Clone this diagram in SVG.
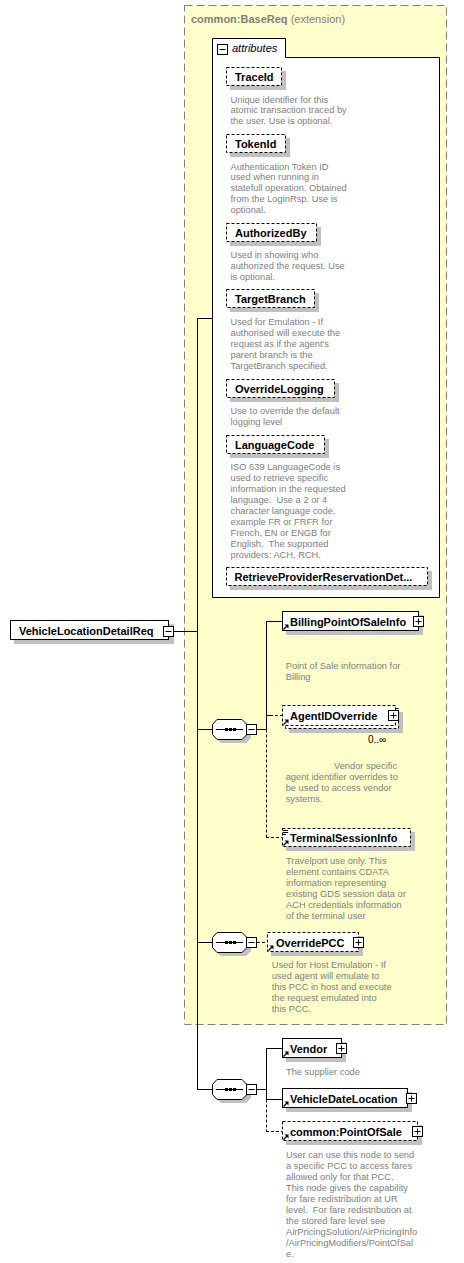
<svg xmlns="http://www.w3.org/2000/svg" xmlns:xlink="http://www.w3.org/1999/xlink" width="464" height="1263" viewBox="0 0 464 1263" xml:space="preserve">
<style>
text{white-space:pre}
.nm{font-family:"Liberation Sans",Arial,sans-serif;font-size:11px;font-weight:bold;fill:#000}
.ds{font-family:"Liberation Sans",Arial,sans-serif;font-size:9.3px;fill:#808080}
.box{fill:#fff;stroke:#000;stroke-width:1}
.dbox{fill:#fff;stroke:#000;stroke-width:1;stroke-dasharray:3,2}
.sh{fill:#c0c0c0}
.ln{stroke:#000;stroke-width:1;fill:none}
.dl{stroke:#000;stroke-width:1;fill:none;stroke-dasharray:3,2}
</style>
<defs>
<g id="plus"><rect x="0.5" y="0.5" width="10" height="10" fill="#fff" stroke="#000"/><path d="M2.5,5.5H8.5M5.5,2.5V8.5" stroke="#000"/></g>
<g id="minus"><rect x="0.5" y="0.5" width="10" height="10" fill="#fff" stroke="#000"/><path d="M2.5,5.5H8.5" stroke="#000"/></g>
<g id="ref"><path d="M0.5,-0.5L4,-4" stroke="#000" stroke-width="1.3"/><polygon points="1.5,-5.5 5.5,-5.5 5.5,-1.5" fill="#000"/></g>
<g id="seq">
<polygon points="9,4 34,4 39,9 39,19 34,24 9,24 4,19 4,9" class="sh"/>
<polygon points="5,0.5 30,0.5 35,5.5 35,15.5 30,20.5 5,20.5 0.5,15.5 0.5,5.5" fill="#fff" stroke="#000"/>
<path d="M4,10.5H31" stroke="#000"/>
<rect x="13" y="9" width="3" height="3" fill="#000"/><rect x="17" y="9" width="3" height="3" fill="#000"/><rect x="21" y="9" width="3" height="3" fill="#000"/>
</g>
</defs>

<g id="baseReq">
<rect x="184.5" y="5.5" width="262" height="1019" fill="#ffffcc" stroke="#808080" stroke-width="1" stroke-dasharray="8,4"/>
<text x="191" y="23" style="font-family:'Liberation Sans',Arial,sans-serif;font-size:11px;fill:#808080"><tspan font-weight="bold">common:BaseReq</tspan> (extension)</text>
</g>

<g id="attributes">
<path d="M212.5,597.5V38.5H285.5V57.5H439.5V597.5Z" fill="#fff" stroke="#000"/>
<use xlink:href="#minus" x="217" y="44"/>
<text x="232" y="52" style="font-family:'Liberation Sans',Arial,sans-serif;font-size:11px;font-style:italic">attributes</text>
</g>

<g id="attr-TraceId">
<rect x="230" y="71" width="56" height="19" class="sh"/>
<rect x="226.5" y="67.5" width="55" height="18" class="dbox"/>
<text x="235" y="80.5" class="nm">TraceId</text>
<text class="ds"><tspan x="230.5" y="102.5">Unique identifier for this</tspan><tspan x="230.5" y="113.3">atomic transaction traced by</tspan><tspan x="230.5" y="124">the user. Use is optional.</tspan></text>
</g>

<g id="attr-TokenId">
<rect x="230" y="138" width="60" height="19" class="sh"/>
<rect x="226.5" y="134.5" width="59" height="18" class="dbox"/>
<text x="235" y="147.5" class="nm">TokenId</text>
<text class="ds"><tspan x="230.5" y="169.5">Authentication Token ID</tspan><tspan x="230.5" y="180.4">used when running in</tspan><tspan x="230.5" y="191.3">statefull operation. Obtained</tspan><tspan x="230.5" y="202.2">from the LoginRsp. Use is</tspan><tspan x="230.5" y="213.1">optional.</tspan></text>
</g>

<g id="attr-AuthorizedBy">
<rect x="230" y="227" width="91" height="19" class="sh"/>
<rect x="226.5" y="223.5" width="90" height="18" class="dbox"/>
<text x="235" y="236.5" class="nm">AuthorizedBy</text>
<text class="ds"><tspan x="230.5" y="257.8">Used in showing who</tspan><tspan x="230.5" y="268.8">authorized the request. Use</tspan><tspan x="230.5" y="279.7">is optional.</tspan></text>
</g>

<g id="attr-TargetBranch">
<rect x="230" y="293" width="89" height="19" class="sh"/>
<rect x="226.5" y="289.5" width="88" height="18" class="dbox"/>
<text x="235" y="302.5" class="nm">TargetBranch</text>
<text class="ds"><tspan x="230.5" y="324.5">Used for Emulation - If</tspan><tspan x="230.5" y="335.5">authorised will execute the</tspan><tspan x="230.5" y="346.5">request as if the agent's</tspan><tspan x="230.5" y="357.5">parent branch is the</tspan><tspan x="230.5" y="368.5">TargetBranch specified.</tspan></text>
</g>

<g id="attr-OverrideLogging">
<rect x="230" y="383" width="109" height="19" class="sh"/>
<rect x="226.5" y="379.5" width="108" height="18" class="dbox"/>
<text x="235" y="392.5" class="nm">OverrideLogging</text>
<text class="ds"><tspan x="230.5" y="414.2">Use to override the default</tspan><tspan x="230.5" y="425.2">logging level</tspan></text>
</g>

<g id="attr-LanguageCode">
<rect x="230" y="439" width="99" height="19" class="sh"/>
<rect x="226.5" y="435.5" width="98" height="18" class="dbox"/>
<text x="235" y="448.5" class="nm">LanguageCode</text>
<text class="ds"><tspan x="230.5" y="470.2">ISO 639 LanguageCode is</tspan><tspan x="230.5" y="481.2">used to retrieve specific</tspan><tspan x="230.5" y="492.2">information in the requested</tspan><tspan x="230.5" y="503.2">language.  Use a 2 or 4</tspan><tspan x="230.5" y="514.2">character language code,</tspan><tspan x="230.5" y="525.2">example FR or FRFR for</tspan><tspan x="230.5" y="536.2">French, EN or ENGB for</tspan><tspan x="230.5" y="547.2">English.  The supported</tspan><tspan x="230.5" y="558.2">providers: ACH, RCH.</tspan></text>
</g>

<g id="attr-RetrieveProviderReservationDetails">
<rect x="230" y="571" width="202" height="19" class="sh"/>
<rect x="226.5" y="567.5" width="201" height="18" class="dbox"/>
<text x="234.5" y="580.5" class="nm">RetrieveProviderReservationDet...</text>
</g>

<g id="connectors">
<path class="ln" d="M174,631.5H197.5M197.5,318V1089.5M197,318.5H212M197,729.5H212M197,942.5H212M197,1089.5H212"/>
<path class="ln" d="M257,729.5H266.5M266.5,621.5V729.5M266,621.5H282M266,715.5H270"/>
<path class="dl" d="M266.5,729.5V837.5M270,715.5H282M266,837.5H282"/>
<path class="dl" d="M257,942.5H267"/>
<path class="ln" d="M257,1089.5H266.5M266.5,1048.5V1099.5M266,1048.5H282M266,1099.5H282"/>
<path class="dl" d="M266.5,1099.5V1131.5M266,1131.5H282"/>
</g>

<g id="VehicleLocationDetailReq">
<rect x="14" y="624" width="160" height="20" class="sh"/>
<rect x="10.5" y="620.5" width="158" height="19" class="box"/>
<text x="19" y="634.5" class="nm">VehicleLocationDetailReq</text>
<use xlink:href="#minus" x="163" y="626"/>
</g>

<g id="sequence1">
<use xlink:href="#seq" x="212" y="719"/>
<use xlink:href="#minus" x="246" y="724"/>
</g>

<g id="BillingPointOfSaleInfo">
<rect x="286" y="615" width="137" height="20" class="sh"/>
<rect x="282.5" y="611.5" width="136" height="19" class="box"/>
<use xlink:href="#ref" x="283" y="630"/>
<text x="290" y="625.5" class="nm">BillingPointOfSaleInfo</text>
<use xlink:href="#plus" x="413" y="616"/>
<text class="ds"><tspan x="285.7" y="669.2">Point of Sale information for</tspan><tspan x="285.7" y="680.2">Billing</tspan></text>
</g>

<g id="AgentIDOverride">
<rect x="289" y="712" width="114" height="21" class="sh"/>
<rect x="285.5" y="708.5" width="113" height="20" class="dbox"/>
<rect x="282.5" y="705.5" width="113" height="20" class="dbox"/>
<use xlink:href="#ref" x="283" y="725"/>
<text x="290" y="719.5" class="nm">AgentIDOverride</text>
<use xlink:href="#plus" x="388" y="710"/>
<text x="368" y="743" style="font-family:'Liberation Sans',Arial,sans-serif;font-size:10px;fill:#000">0..∞</text>
<text class="ds"><tspan x="334" y="769.2">Vendor specific</tspan><tspan x="285.7" y="780.2">agent identifier overrides to</tspan><tspan x="285.7" y="791.2">be used to access vendor</tspan><tspan x="285.7" y="802.2">systems.</tspan></text>
</g>

<g id="TerminalSessionInfo">
<rect x="286" y="832" width="129" height="19" class="sh"/>
<rect x="282.5" y="828.5" width="128" height="18" class="dbox"/>
<path d="M283,830.5H288M283,832.5H288M283,834.5H286" stroke="#000"/>
<use xlink:href="#ref" x="283" y="846"/>
<text x="290" y="841.5" class="nm">TerminalSessionInfo</text>
<text class="ds"><tspan x="286" y="863.5">Travelport use only. This</tspan><tspan x="286" y="874.5">element contains CDATA</tspan><tspan x="286" y="885.5">information representing</tspan><tspan x="286" y="896.5">existing GDS session data or</tspan><tspan x="286" y="907.5">ACH credentials information</tspan><tspan x="286" y="918.5">of the terminal user</tspan></text>
</g>

<g id="sequence2">
<use xlink:href="#seq" x="212" y="932"/>
<use xlink:href="#minus" x="246" y="937"/>
</g>

<g id="OverridePCC">
<rect x="271" y="936" width="92" height="20" class="sh"/>
<rect x="267.5" y="932.5" width="91" height="19" class="dbox"/>
<use xlink:href="#ref" x="268" y="951"/>
<text x="276" y="946.5" class="nm">OverridePCC</text>
<use xlink:href="#plus" x="353" y="937"/>
<text class="ds"><tspan x="271.7" y="967.8">Used for Host Emulation - If</tspan><tspan x="271.7" y="978.8">used agent will emulate to</tspan><tspan x="271.7" y="989.8">this PCC in host and execute</tspan><tspan x="271.7" y="1000.8">the request emulated into</tspan><tspan x="271.7" y="1011.8">this PCC.</tspan></text>
</g>

<g id="sequence3">
<use xlink:href="#seq" x="212" y="1079"/>
<use xlink:href="#minus" x="246" y="1084"/>
</g>

<g id="Vendor">
<rect x="286" y="1042" width="60" height="20" class="sh"/>
<rect x="282.5" y="1038.5" width="59" height="19" class="box"/>
<use xlink:href="#ref" x="283" y="1057"/>
<text x="290" y="1052.5" class="nm">Vendor</text>
<use xlink:href="#plus" x="336" y="1043"/>
<text x="286" y="1074.5" class="ds">The supplier code</text>
</g>

<g id="VehicleDateLocation">
<rect x="286" y="1092" width="126" height="20" class="sh"/>
<rect x="282.5" y="1088.5" width="125" height="19" class="box"/>
<use xlink:href="#ref" x="283" y="1107"/>
<text x="290" y="1102.5" class="nm">VehicleDateLocation</text>
<use xlink:href="#plus" x="406" y="1093"/>
</g>

<g id="PointOfSale">
<rect x="286" y="1125" width="136" height="20" class="sh"/>
<rect x="282.5" y="1121.5" width="135" height="19" class="dbox"/>
<use xlink:href="#ref" x="283" y="1140"/>
<text x="290" y="1135.5" class="nm">common:PointOfSale</text>
<use xlink:href="#plus" x="412" y="1126"/>
<text class="ds"><tspan x="286" y="1158.2">User can use this node to send</tspan><tspan x="286" y="1169.2">a specific PCC to access fares</tspan><tspan x="286" y="1180.2">allowed only for that PCC.</tspan><tspan x="286" y="1191.2">This node gives the capability</tspan><tspan x="286" y="1202.2">for fare redistribution at UR</tspan><tspan x="286" y="1213.2">level.  For fare redistribution at</tspan><tspan x="286" y="1224.2">the stored fare level see</tspan><tspan x="286" y="1235.2">AirPricingSolution/AirPricingInfo</tspan><tspan x="286" y="1246.2">/AirPricingModifiers/PointOfSal</tspan><tspan x="286" y="1257.2">e.</tspan></text>
</g>
</svg>
